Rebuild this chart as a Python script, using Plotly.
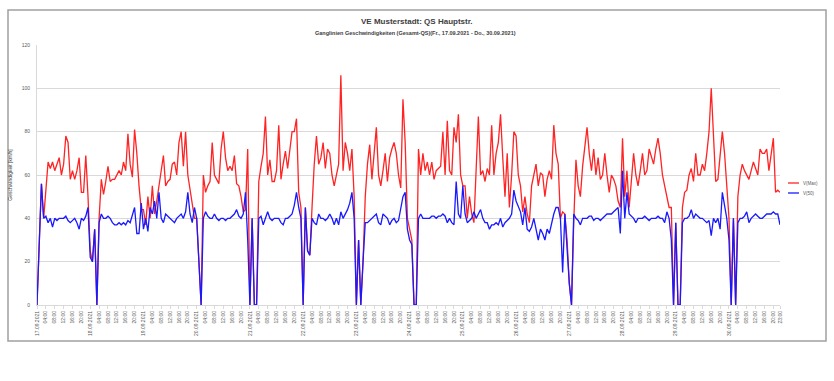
import plotly.graph_objects as go

# ---------------- data (hourly values, 17.09.2021 00:00 - 30.09.2021 23:00) ----------------
dates = ["17.09.2021", "18.09.2021", "19.09.2021", "20.09.2021", "21.09.2021", "22.09.2021",
         "23.09.2021", "24.09.2021", "25.09.2021", "26.09.2021", "27.09.2021", "28.09.2021",
         "29.09.2021", "30.09.2021"]
time_labels = ["04:00", "08:00", "12:00", "16:00", "20:00"]
last_label = "23:00"
series_names = ["V(Max)", "V(50)"]

v_max_days = [
    [0, 28, 56, 40, 55, 66, 63, 66, 62, 65, 68, 60, 65, 78, 75, 58, 62, 58, 62, 68, 52, 52, 69, 50],
    [25, 20, 35, 0, 40, 58, 51, 57, 64, 57, 58, 58, 60, 62, 60, 66, 62, 79, 65, 59, 81, 70, 55, 44],
    [44, 37, 50, 40, 55, 42, 48, 55, 60, 69, 55, 57, 58, 65, 66, 60, 75, 80, 64, 80, 60, 53, 47, 40],
    [40, 20, 0, 60, 52, 55, 57, 75, 60, 58, 56, 72, 80, 68, 62, 64, 62, 69, 56, 55, 50, 43, 44, 72],
    [0, 40, 0, 0, 57, 64, 70, 87, 60, 67, 57, 57, 62, 83, 58, 65, 71, 63, 72, 80, 80, 86, 52, 45],
    [0, 45, 25, 23, 45, 65, 78, 65, 68, 75, 63, 72, 70, 60, 55, 60, 65, 106, 62, 75, 70, 62, 72, 50],
    [0, 30, 0, 20, 50, 65, 74, 58, 70, 82, 60, 55, 62, 70, 57, 68, 72, 75, 70, 60, 54, 95, 75, 40],
    [35, 30, 0, 0, 72, 60, 70, 62, 66, 60, 66, 58, 62, 63, 64, 80, 60, 85, 62, 60, 82, 75, 88, 60],
    [55, 55, 40, 50, 42, 38, 60, 87, 60, 62, 57, 63, 60, 83, 60, 70, 75, 88, 68, 50, 70, 45, 60, 80],
    [78, 60, 55, 43, 50, 42, 38, 55, 60, 65, 55, 61, 60, 50, 58, 62, 58, 83, 70, 65, 40, 43, 42, 30],
    [10, 0, 38, 67, 55, 50, 64, 72, 82, 70, 62, 72, 60, 68, 58, 60, 70, 60, 52, 60, 58, 55, 48, 45],
    [77, 50, 62, 45, 60, 70, 60, 55, 62, 70, 60, 62, 72, 68, 65, 72, 77, 70, 60, 55, 50, 45, 45, 0],
    [38, 0, 0, 45, 52, 53, 60, 63, 57, 70, 60, 60, 65, 62, 70, 80, 100, 78, 57, 58, 70, 80, 70, 55],
    [40, 0, 40, 0, 50, 60, 65, 62, 60, 58, 62, 66, 63, 60, 72, 70, 70, 72, 62, 70, 77, 52, 53, 52],
]

v50_days = [
    [0, 28, 56, 40, 41, 38, 40, 36, 40, 39, 40, 40, 40, 41, 39, 38, 39, 40, 38, 35, 40, 39, 41, 45],
    [22, 20, 35, 0, 38, 42, 40, 40, 41, 40, 38, 37, 37, 38, 37, 38, 37, 39, 38, 42, 45, 33, 33, 47],
    [35, 40, 34, 45, 42, 48, 40, 52, 40, 38, 42, 41, 40, 39, 38, 40, 41, 42, 40, 43, 52, 42, 38, 45],
    [40, 20, 0, 40, 43, 41, 40, 40, 42, 40, 39, 40, 40, 39, 40, 40, 41, 42, 44, 41, 40, 42, 52, 30],
    [0, 40, 0, 0, 40, 41, 37, 40, 43, 40, 39, 40, 40, 40, 38, 37, 40, 40, 41, 42, 46, 52, 45, 40],
    [0, 45, 25, 23, 40, 38, 37, 42, 40, 40, 39, 40, 42, 40, 37, 40, 37, 43, 40, 42, 44, 47, 52, 40],
    [0, 30, 0, 20, 38, 38, 39, 40, 41, 42, 38, 37, 42, 41, 40, 37, 39, 40, 38, 39, 45, 50, 52, 35],
    [30, 28, 0, 0, 40, 42, 40, 40, 40, 40, 41, 41, 40, 41, 41, 42, 41, 38, 40, 38, 37, 57, 42, 40],
    [55, 42, 38, 39, 40, 43, 40, 42, 44, 40, 38, 38, 35, 37, 37, 38, 37, 40, 36, 38, 39, 40, 42, 53],
    [48, 45, 43, 37, 45, 35, 34, 36, 40, 35, 30, 35, 33, 30, 35, 33, 38, 42, 45, 45, 40, 15, 42, 25],
    [10, 0, 42, 40, 39, 37, 40, 40, 40, 41, 41, 39, 40, 40, 39, 40, 41, 42, 42, 42, 43, 44, 45, 33],
    [62, 40, 52, 42, 41, 40, 38, 40, 40, 40, 41, 40, 39, 40, 40, 40, 41, 40, 40, 38, 43, 40, 30, 0],
    [38, 0, 0, 38, 40, 40, 41, 44, 40, 42, 41, 40, 40, 39, 38, 39, 32, 40, 38, 40, 35, 52, 45, 40],
    [30, 0, 40, 0, 38, 40, 40, 41, 43, 38, 40, 41, 42, 41, 40, 40, 41, 42, 42, 42, 43, 42, 42, 37],
]

v_max = [v for day in v_max_days for v in day]
v50 = [v for day in v50_days for v in day]
hours = list(range(len(v_max)))

tickvals, ticktext = [], []
for d, date in enumerate(dates):
    tickvals.append(24 * d)
    ticktext.append(date)
    for k, t in enumerate(time_labels):
        tickvals.append(24 * d + 4 * (k + 1))
        ticktext.append(t)
tickvals.append(hours[-1])
ticktext.append(last_label)

# ---------------- figure ----------------
RED = "rgb(255,35,35)"
BLUE = "rgb(25,25,255)"
FONT = "Liberation Sans"

W, H = 834, 381
L, R, T, B = 37, 54, 45, 76
PW, PH = W - L - R, H - T - B


def px(x):
    return (x - L) / PW


def py(y):
    return (H - B - y) / PH


fig = go.Figure()
fig.add_trace(go.Scatter(x=hours, y=v_max, mode="lines", name=series_names[0],
                         line=dict(color=RED, width=1.3), showlegend=False))
fig.add_trace(go.Scatter(x=hours, y=v50, mode="lines", name=series_names[1],
                         line=dict(color=BLUE, width=1.3), showlegend=False))

fig.update_layout(
    width=W, height=H,
    margin=dict(l=L, r=R, t=T, b=B, autoexpand=False),
    paper_bgcolor="white", plot_bgcolor="white",
    font=dict(family=FONT, size=5, color="#595959"),
    xaxis=dict(range=[0, hours[-1]], tickmode="array", tickvals=tickvals, ticktext=ticktext,
               tickangle=-90, tickfont=dict(size=5, color="#595959"), automargin=False,
               showgrid=False, zeroline=False, showline=True, linecolor="#d9d9d9", linewidth=1,
               ticks="outside", ticklen=3, tickcolor="#d9d9d9"),
    yaxis=dict(range=[0, 120], dtick=20, tickfont=dict(size=5, color="#595959"), automargin=False,
               showgrid=True, gridcolor="#d9d9d9", gridwidth=1, zeroline=False,
               showline=True, linecolor="#d9d9d9", linewidth=1,
               ticks="", ticklabelstandoff=5,
               title=dict(text="Geschwindigkeit [km/h]", font=dict(size=5, color="#404040"),
                          standoff=8)),
    annotations=[
        dict(text="<b>VE Musterstadt: QS Hauptstr.</b>", xref="paper", yref="paper",
             x=px(417), y=py(21), xanchor="center", yanchor="middle", showarrow=False,
             font=dict(size=8, color="#404040", family=FONT)),
        dict(text="<b>Ganglinien Geschwindigkeiten (Gesamt-QS)(Fr., 17.09.2021 - Do., 30.09.2021)</b>",
             xref="paper", yref="paper", x=px(415), y=py(33), xanchor="center", yanchor="middle",
             showarrow=False, font=dict(size=5.5, color="#404040", family=FONT)),
        dict(text=series_names[0], xref="paper", yref="paper", x=px(801), y=py(183),
             xanchor="left", yanchor="middle", showarrow=False,
             font=dict(size=4.5, color="#595959", family=FONT)),
        dict(text=series_names[1], xref="paper", yref="paper", x=px(801), y=py(193),
             xanchor="left", yanchor="middle", showarrow=False,
             font=dict(size=4.5, color="#595959", family=FONT)),
    ],
    shapes=[
        dict(type="rect", xref="paper", yref="paper", x0=px(8), x1=px(826), y0=py(341), y1=py(10),
             line=dict(color="#a0a0a0", width=1.5), fillcolor="rgba(0,0,0,0)", layer="below"),
        dict(type="line", xref="paper", yref="paper", x0=px(788), x1=px(799), y0=py(183), y1=py(183),
             line=dict(color=RED, width=1.3)),
        dict(type="line", xref="paper", yref="paper", x0=px(788), x1=px(799), y0=py(193), y1=py(193),
             line=dict(color=BLUE, width=1.3)),
    ],
)

fig.write_html("out.html",
               config={"displayModeBar": False, "staticPlot": True},
               post_script="document.body.style.margin='0';document.body.style.overflow='hidden';")
